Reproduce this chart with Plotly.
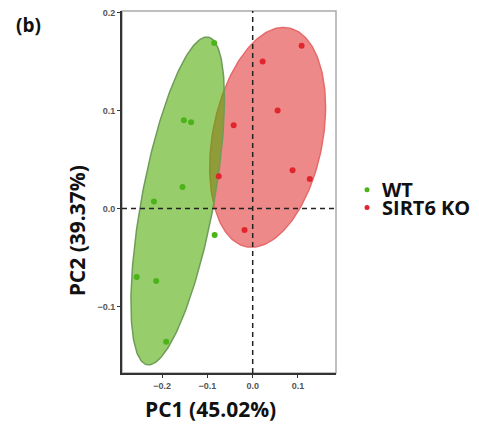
import numpy as np
import plotly.graph_objects as go

# ---- data ----
groups = ["WT", "SIRT6 KO"]
wt_pc1 = [-0.085, -0.152, -0.136, -0.155, -0.218, -0.084, -0.256, -0.213, -0.191]
wt_pc2 = [0.169, 0.090, 0.088, 0.022, 0.007, -0.027, -0.070, -0.074, -0.136]
ko_pc1 = [0.108, 0.022, 0.055, -0.042, -0.075, 0.088, 0.126, -0.018]
ko_pc2 = [0.166, 0.150, 0.100, 0.085, 0.033, 0.039, 0.030, -0.022]
x_ticks = [-0.2, -0.1, 0.0, 0.1]
x_tick_labels = ["\u22120.2", "\u22120.1", "0.0", "0.1"]
y_ticks = [-0.1, 0.0, 0.1, 0.2]
y_tick_labels = ["\u22120.1", "0.0", "0.1", "0.2"]
x_title = "PC1 (45.02%)"
y_title = "PC2 (39.37%)"
panel_label = "(b)"
ellipse_level = 0.78

# ---- styles ----
pt_colors = {"WT": "#4cb31a", "SIRT6 KO": "#e0262c"}
fill_colors = {"WT": "rgba(76,170,0,0.58)", "SIRT6 KO": "rgba(222,40,40,0.55)"}
edge_colors = {"WT": "#6f9c58", "SIRT6 KO": "#e76a6a"}
FONT = "Open Sans"


def ellipse(xs, ys, level, n=240):
    xs = np.asarray(xs, float)
    ys = np.asarray(ys, float)
    mu = np.array([xs.mean(), ys.mean()])
    cov = np.cov(xs, ys)
    L = np.linalg.cholesky(cov)
    k = np.sqrt(-2.0 * np.log(1.0 - level))
    t = np.linspace(0, 2 * np.pi, n)
    circ = np.vstack([np.cos(t), np.sin(t)])
    pts = mu[:, None] + k * (L @ circ)
    return pts[0], pts[1]


data = {"WT": (wt_pc1, wt_pc2), "SIRT6 KO": (ko_pc1, ko_pc2)}

fig = go.Figure()
# ellipses: red first, green on top
for g in ["SIRT6 KO", "WT"]:
    ex, ey = ellipse(*data[g], ellipse_level)
    fig.add_trace(go.Scatter(x=ex, y=ey, mode="lines", fill="toself",
                             fillcolor=fill_colors[g],
                             line=dict(color=edge_colors[g], width=1.5),
                             hoverinfo="skip", showlegend=False))
for g in ["SIRT6 KO", "WT"]:
    fig.add_trace(go.Scatter(x=data[g][0], y=data[g][1], mode="markers", name=g,
                             marker=dict(color=pt_colors[g], size=6),
                             showlegend=False))

tickfont = dict(family="Liberation Sans", size=9, color="#555555", weight="bold")
fig.update_xaxes(range=[-0.2885, 0.1839], tickvals=x_ticks, ticktext=x_tick_labels,
                 showgrid=False, zeroline=False, showline=True, linecolor="#333333",
                 linewidth=2, ticks="outside", ticklen=3, tickcolor="#333333",
                 tickwidth=1, tickfont=tickfont, ticklabeloverflow="allow")
fig.update_yaxes(range=[-0.168, 0.2016], tickvals=y_ticks, ticktext=y_tick_labels,
                 showgrid=False, zeroline=False, showline=True, linecolor="#333333",
                 linewidth=2, ticks="outside", ticklen=3, tickcolor="#333333",
                 tickwidth=1, tickfont=tickfont, ticklabeloverflow="allow")

shapes = [
    dict(type="rect", xref="paper", yref="paper", x0=0, x1=1, y0=0, y1=1,
         line=dict(color="#aaaaaa", width=1.5), layer="below"),
    dict(type="line", xref="x", yref="paper", x0=0, x1=0, y0=0, y1=1,
         line=dict(color="#222222", width=1.5, dash="5px,4px")),
    dict(type="line", xref="paper", yref="y", x0=0, x1=1, y0=0, y1=0,
         line=dict(color="#222222", width=1.5, dash="5px,4px")),
]

annotations = [
    dict(text=x_title, xref="paper", yref="paper", x=0.4136, y=-0.0995,
         xanchor="center", yanchor="middle", showarrow=False,
         font=dict(family=FONT, size=21, color="#111111", weight="bold")),
    dict(text=y_title, xref="paper", yref="paper", x=-0.2103, y=0.394,
         xanchor="center", yanchor="middle", showarrow=False, textangle=-90,
         font=dict(family=FONT, size=21, color="#111111", weight="bold")),
    dict(text=panel_label, xref="paper", yref="paper", x=-0.4346, y=0.9617,
         xanchor="center", yanchor="middle", showarrow=False,
         font=dict(family=FONT, size=19, color="#111111", weight="bold")),
]

# manual legend
leg_y = {"WT": 0.5065, "SIRT6 KO": 0.4571}
for g in groups:
    shapes.append(dict(type="circle", xref="paper", yref="paper",
                       xsizemode="pixel", ysizemode="pixel",
                       xanchor=1.145, yanchor=leg_y[g],
                       x0=-2.5, x1=2.5, y0=-2.5, y1=2.5,
                       fillcolor=pt_colors[g], line=dict(width=0)))
    annotations.append(dict(text=g, xref="paper", yref="paper", x=1.210, y=leg_y[g],
                            xanchor="left", yanchor="middle", showarrow=False,
                            height=17, valign="middle", borderpad=0,
                            font=dict(family=FONT, size=20, color="#111111",
                                      weight="bold")))

# page body has an 8px default margin, so the figure is 8px smaller each way
fig.update_layout(width=471, height=419, margin=dict(l=114, r=143, t=0, b=54),
                  plot_bgcolor="white", paper_bgcolor="white",
                  shapes=shapes, annotations=annotations, showlegend=False)

fig.write_html("out.html")
